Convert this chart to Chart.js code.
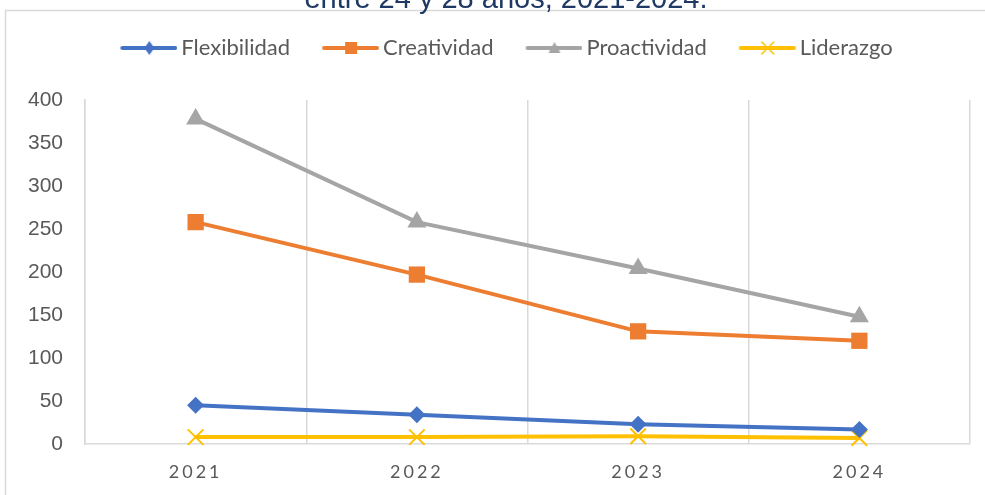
<!DOCTYPE html>
<html>
<head>
<meta charset="utf-8">
<script src="https://cdn.jsdelivr.net/npm/chart.js@4.4.0/dist/chart.umd.min.js"></script>
<style>
  html, body { margin: 0; padding: 0; background: #fff; }
  #wrap { width: 985px; height: 495px; position: relative; }
</style>
</head>
<body>
<div id="wrap"><canvas id="myChart"></canvas></div>
<script>
const years = ["2021", "2022", "2023", "2024"];
const flexibilidad = [45, 34, 23, 17];
const creatividad = [258, 197, 131, 120];
const proactividad = [378, 258, 204, 148];
const liderazgo = [8, 8, 9, 7];
const yTicks = [0, 50, 100, 150, 200, 250, 300, 350, 400];
const titleText = "entre 24 y 28 años, 2021-2024.";

const blue = "#4472C4";
const orange = "#ED7D31";
const grey = "#A5A5A5";
const yellow = "#FFC000";
const gridColor = "#D9D9D9";
const textColor = "#595959";

// little line + marker pictures for the legend
function legendSample(color, marker) {
	const c = document.createElement("canvas");
	c.width = 86;
	c.height = 20;
	const g = c.getContext("2d");
	g.strokeStyle = color;
	g.fillStyle = color;
	g.lineWidth = 4;
	g.lineCap = "round";
	g.beginPath();
	g.moveTo(31, 10);
	g.lineTo(84, 10);
	g.stroke();
	const cx = 58, cy = 10;
	g.beginPath();
	if (marker === "diamond") {
		g.moveTo(cx, cy - 7); g.lineTo(cx + 5, cy); g.lineTo(cx, cy + 7); g.lineTo(cx - 5, cy);
		g.closePath(); g.fill();
	} else if (marker === "square") {
		g.rect(cx - 6, cy - 6, 12, 12); g.fill();
	} else if (marker === "triangle") {
		g.moveTo(cx, cy - 6); g.lineTo(cx + 6, cy + 5); g.lineTo(cx - 6, cy + 5);
		g.closePath(); g.fill();
	} else {
		g.lineWidth = 1.5;
		g.moveTo(cx - 6, cy - 6); g.lineTo(cx + 6, cy + 6);
		g.moveTo(cx + 6, cy - 6); g.lineTo(cx - 6, cy + 6);
		g.stroke();
	}
	return c;
}
const legendPics = [
	legendSample(blue, "diamond"),
	legendSample(orange, "square"),
	legendSample(grey, "triangle"),
	legendSample(yellow, "cross"),
];

const framePlugin = {
	id: "frame",
	beforeInit(chart) {
		const fit = chart.legend.fit;
		chart.legend.fit = function () {
			fit.call(this);
			this.height = 73;
		};
	},
	afterLayout(chart) {
		// nudge the legend row a bit to the right, as in the original
		chart.legend.left += 8;
		chart.legend.right += 8;
	},
	beforeDraw(chart) {
		const ctx = chart.ctx;
		ctx.save();
		ctx.strokeStyle = gridColor;
		ctx.lineWidth = 1.5;
		ctx.strokeRect(5.5, 10.5, 1000, 600);
		ctx.fillStyle = "#1F3864";
		ctx.font = "29px 'Liberation Sans', Arial, sans-serif";
		ctx.textAlign = "center";
		ctx.textBaseline = "alphabetic";
		ctx.fillText(titleText, 506, 8);
		ctx.restore();
		const sx = chart.scales.x;
		if (sx && !sx._spaced) {
			const draw = sx.drawLabels;
			sx.drawLabels = function (area) {
				this.ctx.save();
				this.ctx.letterSpacing = "3px";
				draw.call(this, area);
				this.ctx.restore();
			};
			sx._spaced = true;
		}
	},
};

const lineCanvas = document.getElementById("myChart");

const myChart = new Chart(lineCanvas, {
	type: "line",
	data: {
		labels: years,
		datasets: [
			{
				label: "Flexibilidad",
				data: flexibilidad,
				borderColor: blue,
				backgroundColor: blue,
				borderWidth: 4,
				pointStyle: "rectRot",
				pointRadius: 8.5,
				pointBorderWidth: 0,
			},
			{
				label: "Creatividad",
				data: creatividad,
				borderColor: orange,
				backgroundColor: orange,
				borderWidth: 4,
				pointStyle: "rect",
				pointRadius: 11.5,
				pointBorderWidth: 0,
			},
			{
				label: "Proactividad",
				data: proactividad,
				borderColor: grey,
				backgroundColor: grey,
				borderWidth: 4,
				pointStyle: "triangle",
				pointRadius: 11,
				pointBorderWidth: 0,
			},
			{
				label: "Liderazgo",
				data: liderazgo,
				borderColor: yellow,
				backgroundColor: yellow,
				borderWidth: 4,
				pointStyle: "crossRot",
				pointRadius: 11,
				pointBorderWidth: 2,
				pointBorderColor: yellow,
			},
		],
	},
	options: {
		responsive: true,
		maintainAspectRatio: false,
		animation: false,
		clip: false,
		layout: {
			padding: { top: 27, left: 5, right: 15, bottom: 0 },
		},
		plugins: {
			legend: {
				display: true,
				position: "top",
				labels: {
					usePointStyle: true,
					pointStyleWidth: 72,
					padding: 10,
					color: textColor,
					font: { family: "Lato", size: 22 },
					generateLabels(chart) {
						const items = Chart.defaults.plugins.legend.labels.generateLabels(chart);
						items.forEach((it, i) => { it.pointStyle = legendPics[i]; });
						return items;
					},
				},
			},
			tooltip: { enabled: false },
		},
		scales: {
			x: {
				offset: true,
				grid: { display: true, offset: true, color: gridColor, lineWidth: 1.5, drawTicks: false },
				border: { display: true, color: gridColor, width: 1.5 },
				ticks: {
					color: textColor,
					font: { family: "Lato", size: 18 },
					padding: 17,
					maxRotation: 0,
				},
				afterFit(scale) { scale.height = 51; },
			},
			y: {
				min: 0,
				max: 400,
				afterBuildTicks(scale) { scale.ticks = yTicks.map(v => ({ value: v })); },
				grid: { display: false, drawTicks: false },
				border: { display: true, color: gridColor, width: 1.5 },
				ticks: {
					color: textColor,
					font: { family: "'Liberation Sans', Arial", size: 21 },
					padding: 22,
				},
				afterFit(scale) { scale.width = 80; },
			},
		},
	},
	plugins: [framePlugin],
});
</script>
</body>
</html>
